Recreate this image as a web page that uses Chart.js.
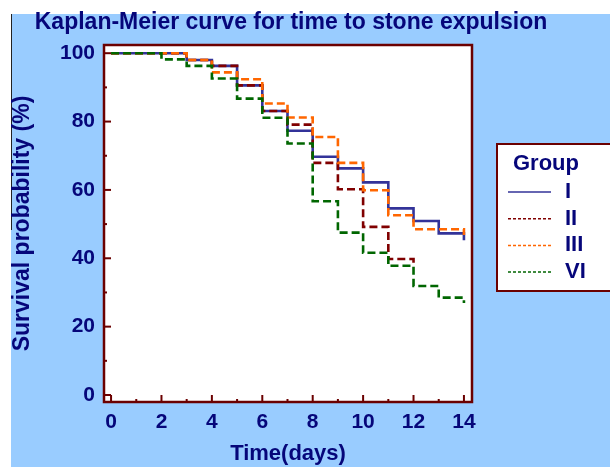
<!DOCTYPE html>
<html>
<head>
<meta charset="utf-8">
<script src="https://cdn.jsdelivr.net/npm/chart.js@4.4.0/dist/chart.umd.min.js"></script>
<style>
  html, body { margin: 0; padding: 0; background: #ffffff; }
  canvas { display: block; }
</style>
</head>
<body>
<canvas id="km" width="610" height="467"></canvas>
<script>
// values (survival % after each drop)
const groupNames = ['I', 'II', 'III', 'VI']

const timeI = [0, 3, 4, 5, 6, 7, 8, 9, 10, 11, 12, 13, 14]
const survI = [100, 98, 96.3, 90.6, 83.1, 77.3, 69.7, 66.3, 62.2, 54.6, 50.9, 47.3, 45.3]

const timeII = [0, 3, 4, 5, 6, 7, 8, 9, 10, 11, 12]
const survII = [100, 98, 96.3, 90.6, 83.1, 79.1, 67.9, 60.2, 49.2, 39.8, 38.6]

const timeIII = [0, 3, 4, 5, 6, 7, 8, 9, 10, 11, 12, 14]
const survIII = [100, 98, 94.4, 92.4, 85.3, 81.2, 75.5, 67.9, 59.9, 52.6, 48.5, 46.8]

const timeVI = [0, 2, 3, 4, 5, 6, 7, 8, 9, 10, 11, 12, 13, 14]
const survVI = [100, 98.2, 96.3, 92.6, 86.7, 81.1, 73.6, 56.7, 47.5, 41.6, 37.8, 31.9, 28.5, 26.9]

const xTickValues = [0, 2, 4, 6, 8, 10, 12, 14]
const yTickValues = [0, 20, 40, 60, 80, 100]

const navy = '#06067a'
const frameColor = '#6b0000'
const font = 'Liberation Sans, Arial, sans-serif'

const toPoints = (times, values) => times.map((t, i) => ({ x: t, y: values[i] }))

const series = [
    { times: timeI, values: survI, color: '#333399', dash: [], order: 4 },
    { times: timeII, values: survII, color: '#800000', dash: [8, 4], order: 3 },
    { times: timeIII, values: survIII, color: '#ff6600', dash: [8, 4], order: 2 },
    { times: timeVI, values: survVI, color: '#006600', dash: [8, 4], order: 1 }
]

const datasets = series.map((s, i) => ({
    label: groupNames[i],
    data: toPoints(s.times, s.values),
    stepped: true,
    borderColor: s.color,
    borderWidth: 2.6,
    borderDash: s.dash,
    pointRadius: 0,
    fill: false,
    order: s.order
}))

// page background, frame, inward ticks, title and legend box
const decor = {
    id: 'decor',
    beforeDraw(chart) {
        const ctx = chart.ctx
        const a = chart.chartArea
        ctx.save()
        ctx.fillStyle = '#ffffff'
        ctx.fillRect(0, 0, chart.width, chart.height)
        ctx.fillStyle = '#99ccff'
        ctx.fillRect(11, 14, chart.width - 11, chart.height - 14)
        ctx.strokeStyle = '#222222'
        ctx.lineWidth = 1
        ctx.beginPath()
        ctx.moveTo(11.5, 14)
        ctx.lineTo(11.5, 230)
        ctx.stroke()
        ctx.fillStyle = '#ffffff'
        ctx.fillRect(a.left, a.top, a.right - a.left, a.bottom - a.top)
        ctx.restore()
    },
    afterDraw(chart) {
        const ctx = chart.ctx
        const a = chart.chartArea
        const xs = chart.scales.x
        const ys = chart.scales.y
        ctx.save()
        ctx.strokeStyle = frameColor
        ctx.lineWidth = 2
        for (let v = 0; v <= 100; v += 10) {
            const y = ys.getPixelForValue(v)
            const len = v % 20 === 0 ? 7 : 3
            ctx.beginPath()
            ctx.moveTo(a.left, y)
            ctx.lineTo(a.left + len, y)
            ctx.stroke()
        }
        for (let d = 0; d <= 14; d++) {
            const x = xs.getPixelForValue(d)
            const len = d % 2 === 0 ? 7 : 3
            ctx.beginPath()
            ctx.moveTo(x, a.bottom)
            ctx.lineTo(x, a.bottom - len)
            ctx.stroke()
        }
        ctx.lineWidth = 2.5
        ctx.strokeRect(a.left, a.top, a.right - a.left, a.bottom - a.top)

        // title
        ctx.fillStyle = navy
        ctx.font = 'bold 23px ' + font
        ctx.textAlign = 'center'
        ctx.textBaseline = 'middle'
        ctx.fillText('Kaplan-Meier curve for time to stone expulsion', 291, 23)

        // legend
        const bx = 497, by = 144, bw = 120, bh = 147
        ctx.fillStyle = '#ffffff'
        ctx.fillRect(bx, by, bw, bh)
        ctx.strokeStyle = frameColor
        ctx.lineWidth = 2
        ctx.strokeRect(bx, by, bw, bh)
        ctx.font = 'bold 22px ' + font
        ctx.fillStyle = navy
        ctx.textAlign = 'left'
        ctx.fillText('Group', 513, 164)
        series.forEach((s, i) => {
            const y = 192 + i * 26.7
            ctx.strokeStyle = s.color
            ctx.lineWidth = 1.5
            ctx.setLineDash(s.dash.length ? [3, 2] : [])
            ctx.beginPath()
            ctx.moveTo(508, y)
            ctx.lineTo(551, y)
            ctx.stroke()
            ctx.setLineDash([])
            ctx.fillStyle = navy
            ctx.fillText(groupNames[i], 565, y)
        })
        ctx.restore()
    }
}

const ctx = document.querySelector('#km')
const kmChart = new Chart(ctx, {
    type: 'line',
    data: { datasets: datasets },
    plugins: [decor],
    options: {
        responsive: false,
        animation: false,
        layout: { padding: { left: 0, top: 45, right: 138, bottom: 0 } },
        plugins: {
            legend: { display: false },
            title: { display: false },
            tooltip: { enabled: false }
        },
        scales: {
            x: {
                type: 'linear',
                min: -0.28,
                max: 14.32,
                afterBuildTicks: (scale) => { scale.ticks = xTickValues.map(v => ({ value: v })) },
                afterFit: (scale) => { scale.height = 65 },
                grid: { display: false, drawTicks: false },
                border: { display: false },
                ticks: { color: navy, font: { family: font, size: 21, weight: 'bold' }, padding: 8, maxRotation: 0 },
                title: { display: true, text: 'Time(days)', color: navy, font: { family: font, size: 22, weight: 'bold' }, padding: { top: 0, bottom: 0 } }
            },
            y: {
                type: 'linear',
                min: -2.05,
                max: 102.4,
                afterBuildTicks: (scale) => { scale.ticks = yTickValues.map(v => ({ value: v })) },
                afterFit: (scale) => { scale.width = 104 },
                grid: { display: false, drawTicks: false },
                border: { display: false },
                ticks: { color: navy, font: { family: font, size: 21, weight: 'bold' }, padding: 9 },
                title: { display: true, text: 'Survival probability (%)', color: navy, font: { family: font, size: 23, weight: 'bold' }, padding: { top: 9, bottom: 0 } }
            }
        }
    }
})
</script>
</body>
</html>
